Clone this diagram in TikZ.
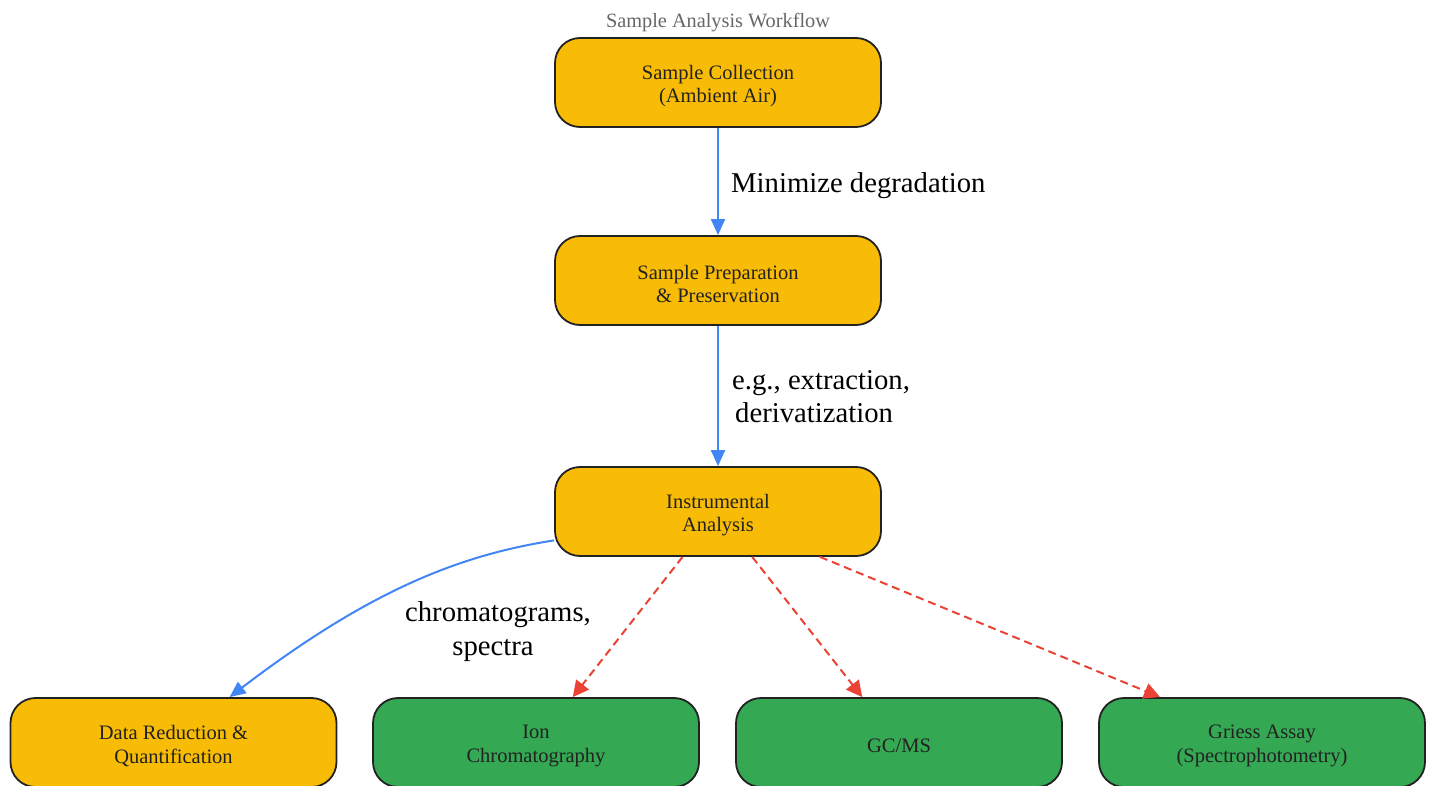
\documentclass[tikz,border=0pt]{standalone}
\usepackage{fontspec}
\setmainfont{Liberation Serif}
\usetikzlibrary{arrows.meta}
\definecolor{gyellow}{HTML}{F9BC06}
\definecolor{ggreen}{HTML}{34A853}
\definecolor{gblue}{HTML}{4285F4}
\definecolor{gred}{HTML}{EA4335}
\definecolor{gborder}{HTML}{222222}
\definecolor{gtitle}{HTML}{666666}
\tikzset{
  box/.style={rectangle, rounded corners=25pt, minimum width=326pt, minimum height=89pt,
    draw=gborder, line width=1.8pt, inner sep=0pt},
  ybox/.style={box, fill=gyellow},
  gbox/.style={box, fill=ggreen},
  boxtext/.style={text=gborder, align=center, yshift=-3.5pt,
    font=\fontsize{20.5}{23.5}\selectfont, inner sep=0pt},
  blueflow/.style={draw=gblue, line width=2pt, -{Triangle[length=16pt,width=14pt]}},
  redflow/.style={draw=gred, line width=2pt, dash pattern=on 8pt off 5pt,
    -{Triangle[length=16pt,width=16pt]}},
  elabel/.style={font=\fontsize{28.7}{33}\selectfont, text=black, inner sep=0pt},
}
\begin{document}
\begin{tikzpicture}[x=1pt,y=-1pt]
\useasboundingbox (0,0) rectangle (1433,786);
\node[text=gtitle, font=\fontsize{20.3}{24}\selectfont] (title) at (718,23) {Sample Analysis Workflow};
\node[ybox, label={[boxtext]center:{Sample Collection\\(Ambient Air)}}] (coll) at (718,82.5) {};
\node[ybox, label={[boxtext]center:{Sample Preparation\\\& Preservation}}] (prep) at (718,280.5) {};
\node[ybox, label={[boxtext]center:{Instrumental\\Analysis}}] (instr) at (718,511.5) {};
\node[ybox, label={[boxtext]center:{Data Reduction \&\\Quantification}}] (data) at (173.5,742.5) {};
\node[gbox, label={[boxtext]center:{Ion\\Chromatography}}] (ic) at (536,742.5) {};
\node[gbox, label={[boxtext]center:{GC/MS}}] (gcms) at (899,742.5) {};
\node[gbox, label={[boxtext]center:{Griess Assay\\(Spectrophotometry)}}] (griess) at (1262,742.5) {};

\draw[blueflow] (coll) -- (prep);
\draw[blueflow] (prep) -- (instr);
\draw[blueflow] (instr.190) .. controls (460,555) and (370,590) .. (data.39);
\draw[redflow] (instr.232.6) -- (ic.51);
\draw[redflow] (instr.307.4) -- (gcms.129.7);
\draw[redflow] (instr.336.4) -- (griess.156.8);

\node[elabel, anchor=west] (l1) at (731,186) {Minimize degradation};
\node[elabel, anchor=west, align=left] (l2) at (732,396.5) {e.g., extraction,\\\hspace*{3pt}derivatization};
\node[elabel, align=center, font=\fontsize{28.7}{34}\selectfont] (l3) at (498,632) {chromatograms,\\spectra\hspace*{10pt}};
\end{tikzpicture}
\end{document}
